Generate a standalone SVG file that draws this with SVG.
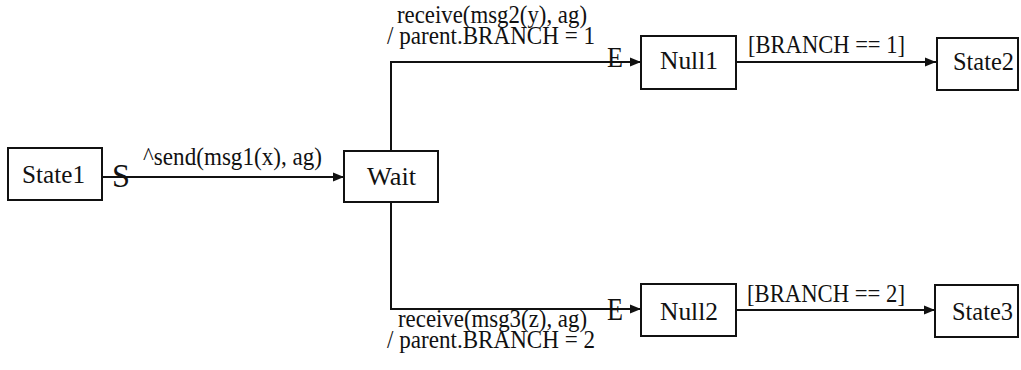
<svg xmlns="http://www.w3.org/2000/svg" width="1021" height="370" viewBox="0 0 1021 370">
<style>
.box{fill:#fff;stroke:#111;stroke-width:2}
.t{font-family:"Liberation Serif","Times New Roman",serif;font-size:26px;fill:#111}
.big{font-family:"Liberation Serif","Times New Roman",serif;fill:#111}
.c{fill:none;stroke:#111;stroke-width:2}
</style>
<defs>
<marker id="ah" markerUnits="userSpaceOnUse" markerWidth="12" markerHeight="10" refX="11" refY="5" orient="auto">
<path d="M0,0.5 L11,5 L0,9.5 z" fill="#111"/>
</marker>
</defs>
<rect width="1021" height="370" fill="#fff"/>
<g id="connectors">
<path class="c" d="M102,177 H344" marker-end="url(#ah)"/>
<path class="c" d="M391,151 V62 H641" marker-end="url(#ah)"/>
<path class="c" d="M391,202 V309 H641" marker-end="url(#ah)"/>
<path class="c" d="M736,62 H936" marker-end="url(#ah)"/>
<path class="c" d="M736,310 H935" marker-end="url(#ah)"/>
<text class="big" x="112" y="187" font-size="33" textLength="18" lengthAdjust="spacingAndGlyphs">S</text>
<text class="big" x="607" y="67" font-size="30" textLength="16" lengthAdjust="spacingAndGlyphs">E</text>
<text class="big" x="607" y="320" font-size="32" textLength="16" lengthAdjust="spacingAndGlyphs">E</text>
<text class="t" x="143" y="165" textLength="179" lengthAdjust="spacingAndGlyphs">^send(msg1(x), ag)</text>
<text class="t" x="397" y="23" textLength="190" lengthAdjust="spacingAndGlyphs">receive(msg2(y), ag)</text>
<text class="t" x="387" y="44" textLength="208" lengthAdjust="spacingAndGlyphs">/ parent.BRANCH = 1</text>
<text class="t" x="748" y="53" textLength="157" lengthAdjust="spacingAndGlyphs">[BRANCH == 1]</text>
<text class="t" x="398" y="327" textLength="189" lengthAdjust="spacingAndGlyphs">receive(msg3(z), ag)</text>
<text class="t" x="387" y="348" textLength="208" lengthAdjust="spacingAndGlyphs">/ parent.BRANCH = 2</text>
<text class="t" x="747" y="302" textLength="158" lengthAdjust="spacingAndGlyphs">[BRANCH == 2]</text>
</g>
<g id="State1"><rect class="box" x="8" y="148" width="94" height="52"/><text class="t" x="22" y="183" textLength="63" lengthAdjust="spacingAndGlyphs">State1</text></g>
<g id="Wait"><rect class="box" x="344" y="151" width="94" height="51"/><text class="t" x="367" y="185" textLength="49" lengthAdjust="spacingAndGlyphs">Wait</text></g>
<g id="Null1"><rect class="box" x="641" y="36" width="95" height="53"/><text class="t" x="660" y="69" textLength="58" lengthAdjust="spacingAndGlyphs">Null1</text></g>
<g id="State2"><rect class="box" x="937" y="38" width="81" height="52"/><text class="t" x="953" y="70" textLength="61" lengthAdjust="spacingAndGlyphs">State2</text></g>
<g id="Null2"><rect class="box" x="641" y="284" width="95" height="52"/><text class="t" x="660" y="320" textLength="58" lengthAdjust="spacingAndGlyphs">Null2</text></g>
<g id="State3"><rect class="box" x="935" y="285" width="83" height="52"/><text class="t" x="952" y="320" textLength="61" lengthAdjust="spacingAndGlyphs">State3</text></g>
</svg>
